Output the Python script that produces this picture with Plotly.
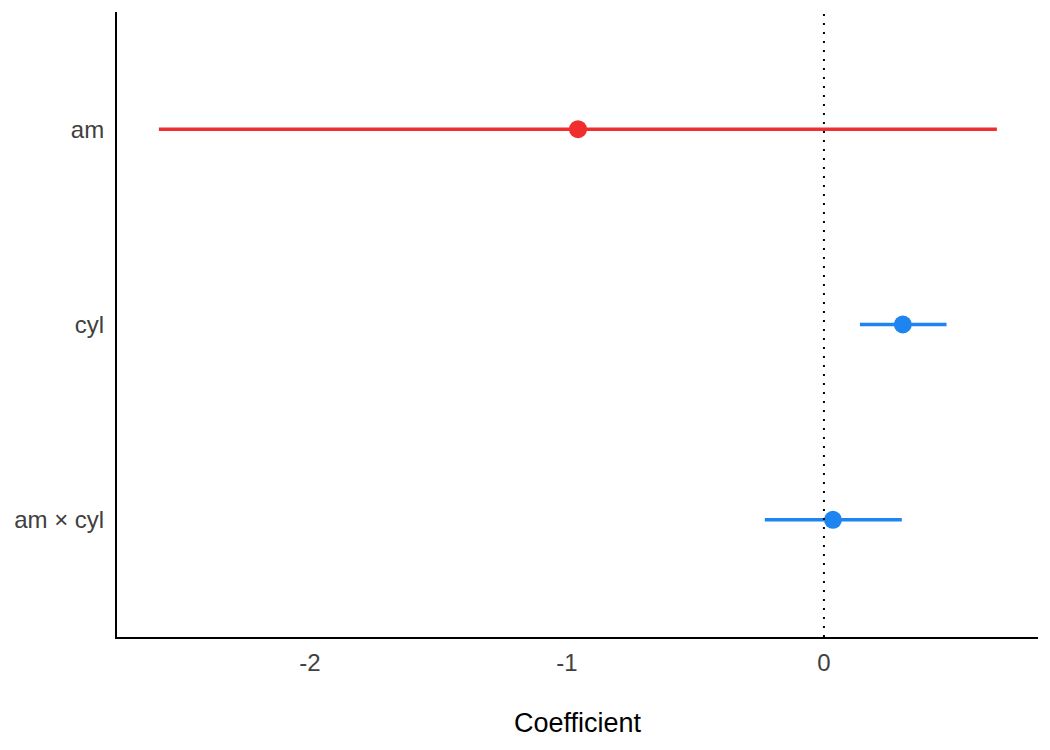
import plotly.graph_objects as go

terms = ["am", "cyl", "am × cyl"]
estimate = [-0.957, 0.307, 0.035]
conf_low = [-2.588, 0.140, -0.230]
conf_high = [0.673, 0.477, 0.303]
colors = ["#F02E2E", "#1E85F0", "#1E85F0"]

tick_vals = [-2, -1, 0]
tick_text = ["-2", "-1", "0"]

fig = go.Figure()

# confidence intervals
for t, lo, hi, c in zip(terms, conf_low, conf_high, colors):
    fig.add_trace(
        go.Scatter(
            x=[lo, hi],
            y=[t, t],
            mode="lines",
            line=dict(color=c, width=3.5),
            showlegend=False,
            hoverinfo="skip",
        )
    )

# point estimates
fig.add_trace(
    go.Scatter(
        x=estimate,
        y=terms,
        mode="markers",
        marker=dict(color=colors, size=18, line=dict(width=0)),
        showlegend=False,
    )
)

fig.add_vline(x=0, line=dict(color="black", width=2, dash="2px,7px"))

fig.update_layout(
    width=1050,
    height=750,
    plot_bgcolor="white",
    paper_bgcolor="white",
    margin=dict(l=109, r=20, t=4, b=121),
    font=dict(family="Liberation Sans, Arial, sans-serif", size=24, color="#404040"),
)

fig.update_xaxes(
    range=[-2.751, 0.833],
    tickvals=tick_vals,
    ticktext=tick_text,
    showgrid=False,
    zeroline=False,
    showline=True,
    linecolor="black",
    linewidth=2,
    ticks="",
    ticklabelstandoff=3,
    tickfont=dict(size=24, color="#404040"),
    title=dict(text="Coefficient", font=dict(size=27, color="black"), standoff=38),
)

fig.update_yaxes(
    categoryorder="array",
    categoryarray=terms[::-1],
    range=[-0.6, 2.6],
    showgrid=False,
    zeroline=False,
    showline=True,
    linecolor="black",
    linewidth=2,
    ticks="",
    ticklabelstandoff=6,
    tickfont=dict(size=24, color="#404040"),
)

fig.write_html("out.html")
